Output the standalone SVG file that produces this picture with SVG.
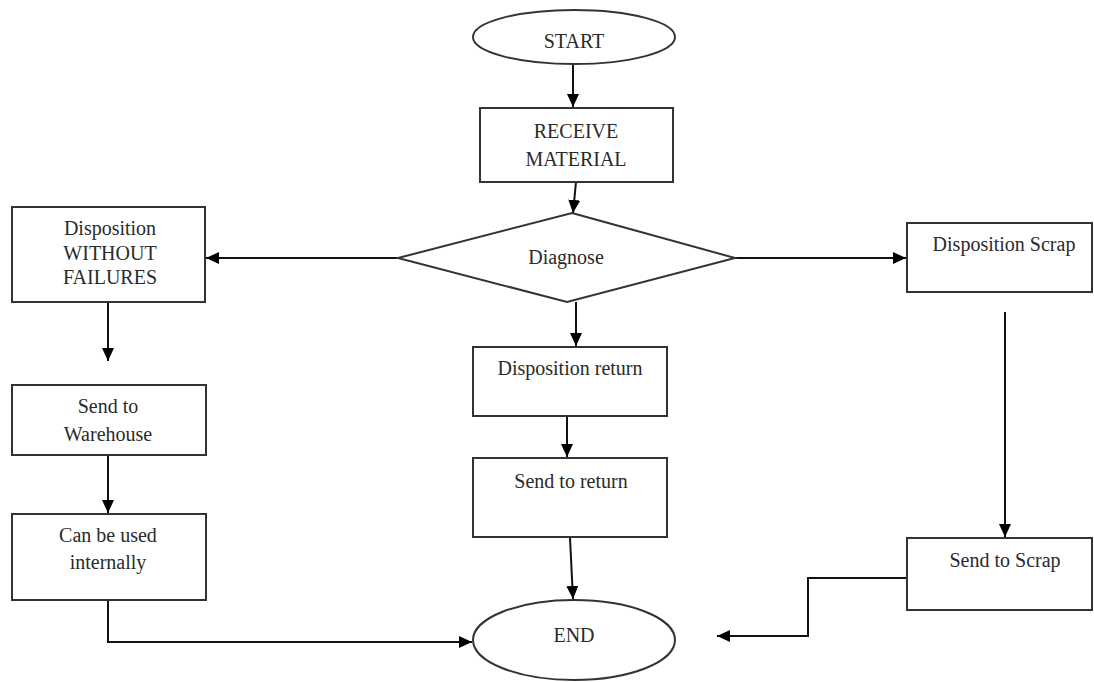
<svg xmlns="http://www.w3.org/2000/svg" width="1094" height="682" viewBox="0 0 1094 682">
<style>
.box{fill:#fff;stroke:#333;stroke-width:2}
.t{font-family:"Liberation Serif","Times New Roman",serif;font-size:20px;fill:#2a2a2a;text-anchor:middle}
.c{fill:none;stroke:#111;stroke-width:2}
</style>
<defs>
<marker id="ah" markerUnits="userSpaceOnUse" markerWidth="14" markerHeight="12" refX="13" refY="6" orient="auto">
<path d="M0,0 L13,6 L0,12 z" fill="#000"/>
</marker>
</defs>
<rect width="1094" height="682" fill="#fff"/>
<g id="connectors">
<line class="c" x1="573" y1="65" x2="573" y2="107" marker-end="url(#ah)"/>
<line class="c" x1="576" y1="182" x2="573" y2="213" marker-end="url(#ah)"/>
<line class="c" x1="398" y1="258" x2="206" y2="258" marker-end="url(#ah)"/>
<line class="c" x1="735" y1="258" x2="906" y2="258" marker-end="url(#ah)"/>
<line class="c" x1="576" y1="302" x2="576" y2="346" marker-end="url(#ah)"/>
<line class="c" x1="108" y1="302" x2="108" y2="361" marker-end="url(#ah)"/>
<line class="c" x1="108" y1="455" x2="108" y2="513" marker-end="url(#ah)"/>
<line class="c" x1="567" y1="416" x2="567" y2="457" marker-end="url(#ah)"/>
<line class="c" x1="1005" y1="312" x2="1005" y2="537" marker-end="url(#ah)"/>
<line class="c" x1="570" y1="538" x2="573" y2="599" marker-end="url(#ah)"/>
<polyline class="c" points="108,600 108,642 472,642" marker-end="url(#ah)"/>
<polyline class="c" points="906,578 808,578 808,636 717,636" marker-end="url(#ah)"/>
</g>
<g id="start">
<ellipse class="box" cx="574" cy="37" rx="101" ry="27"/>
<text class="t" x="574" y="48">START</text>
</g>
<g id="receive">
<rect class="box" x="480" y="108" width="193" height="74"/>
<text class="t" x="576" y="138">RECEIVE</text>
<text class="t" x="576" y="166">MATERIAL</text>
</g>
<g id="diagnose">
<polygon class="box" points="572,213 735,258 567,302 398,258"/>
<text class="t" x="566" y="264">Diagnose</text>
</g>
<g id="disp-without">
<rect class="box" x="12" y="207" width="193" height="95"/>
<text class="t" x="110" y="235">Disposition</text>
<text class="t" x="110" y="260">WITHOUT</text>
<text class="t" x="110" y="284">FAILURES</text>
</g>
<g id="send-warehouse">
<rect class="box" x="12" y="385" width="194" height="70"/>
<text class="t" x="108" y="413">Send to</text>
<text class="t" x="108" y="441">Warehouse</text>
</g>
<g id="used-internally">
<rect class="box" x="12" y="514" width="194" height="86"/>
<text class="t" x="108" y="542">Can be used</text>
<text class="t" x="108" y="569">internally</text>
</g>
<g id="disp-return">
<rect class="box" x="473" y="347" width="194" height="69"/>
<text class="t" x="570" y="375">Disposition return</text>
</g>
<g id="send-return">
<rect class="box" x="473" y="458" width="194" height="79"/>
<text class="t" x="571" y="488">Send to return</text>
</g>
<g id="disp-scrap">
<rect class="box" x="907" y="223" width="185" height="69"/>
<text class="t" x="1004" y="251">Disposition Scrap</text>
</g>
<g id="send-scrap">
<rect class="box" x="907" y="538" width="185" height="72"/>
<text class="t" x="1005" y="567">Send to Scrap</text>
</g>
<g id="end">
<ellipse class="box" cx="574" cy="640" rx="101" ry="40"/>
<text class="t" x="574" y="642">END</text>
</g>
</svg>
